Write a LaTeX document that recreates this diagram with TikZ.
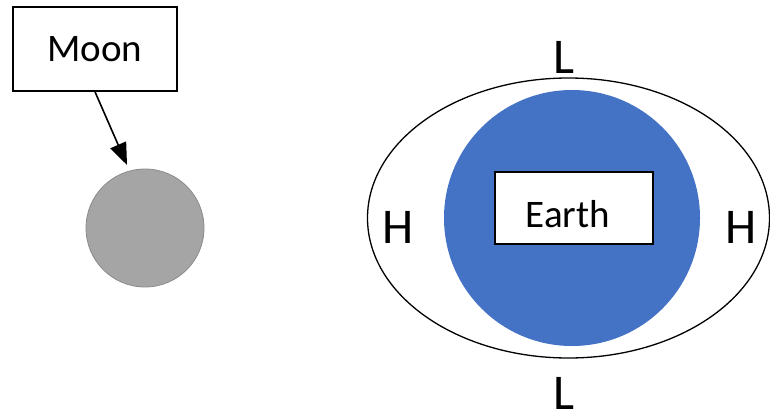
\documentclass[tikz,border=0pt]{standalone}
\usepackage{fontspec}
\setmainfont{Carlito}
\usetikzlibrary{arrows.meta,shapes.geometric}
\definecolor{earthblue}{HTML}{4472C4}
\definecolor{moongray}{HTML}{A5A5A5}
\definecolor{moonedge}{HTML}{8A8A8A}
\tikzset{
  labelbox/.style={draw=black, line width=1.6pt, fill=white, rectangle, inner sep=0pt,
    font=\fontsize{39}{39}\selectfont},
  tide/.style={font=\fontsize{50}{50}\selectfont, inner sep=0pt},
  pointer/.style={line width=1.6pt, -{Triangle[length=22pt,width=17pt]}}
}
\begin{document}
\begin{tikzpicture}[x=1pt,y=-1pt]
  \useasboundingbox (0,0) rectangle (770,415);
  % Moon
  \node[labelbox, minimum width=164pt, minimum height=84pt] (moon) at (95,49) {Moon};
  \node[circle, fill=moongray, draw=moonedge, line width=0.8pt, minimum size=118pt, inner sep=0pt] (moonball) at (145,228) {};
  \coordinate (tip) at (127,165);
  \draw[pointer] (moon.south) -- (tip);
  % Earth with its tidal bulge
  \node[ellipse, draw=black, line width=1.3pt, minimum width=402pt, minimum height=280pt, inner sep=0pt] (bulge) at (568.5,218) {};
  \node[circle, fill=earthblue, minimum size=256pt, inner sep=0pt] (earth) at (572,218) {};
  \node[labelbox, minimum width=158pt, minimum height=72pt] (earthlbl) at (574,208) {};
  \node[font=\fontsize{39}{39}\selectfont, inner sep=0pt] (earthtxt) at (568,214) {Earth};
  % Tide labels
  \node[tide] (ltop) at (564,57) {L};
  \node[tide] (lbot) at (564,393) {L};
  \node[tide] (hleft) at (398,227) {H};
  \node[tide] (hright) at (741,227) {H};
\end{tikzpicture}
\end{document}
